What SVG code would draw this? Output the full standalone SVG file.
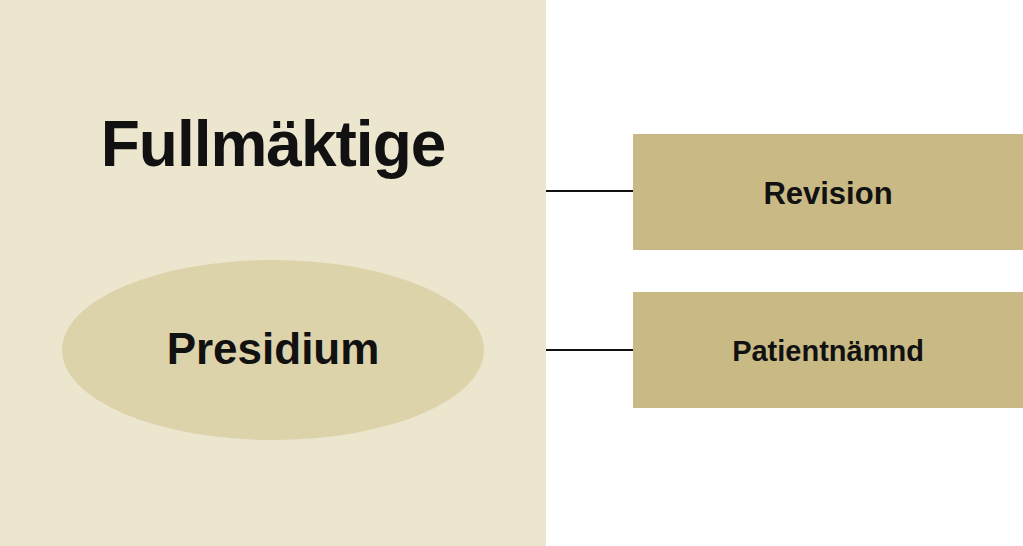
<svg xmlns="http://www.w3.org/2000/svg" width="1023" height="546" viewBox="0 0 1023 546">
<style>
text{font-family:"Liberation Sans",Arial,sans-serif;font-weight:bold;fill:#111;text-anchor:middle}
.box{fill:#c8b985}
.ln{stroke:#111;stroke-width:2}
</style>
<rect width="1023" height="546" fill="#fff"/>
<g id="fullmaktige"><rect x="0" y="0" width="546" height="546" fill="#ede6cf"/><text x="273" y="166" font-size="64" letter-spacing="-1">Fullmäktige</text></g>
<g id="presidium"><ellipse cx="273" cy="350" rx="211" ry="90" fill="#ddd3ab"/><text x="273" y="364" font-size="44">Presidium</text></g>
<g id="revision"><rect class="box" x="633" y="134" width="390" height="116"/><text x="828" y="204" font-size="31">Revision</text></g>
<g id="patientnamnd"><rect class="box" x="633" y="292" width="390" height="116"/><text x="828" y="361" font-size="29">Patientnämnd</text></g>
<g id="connectors"><line class="ln" x1="546" y1="191" x2="633" y2="191"/><line class="ln" x1="546" y1="350" x2="633" y2="350"/></g>
</svg>
